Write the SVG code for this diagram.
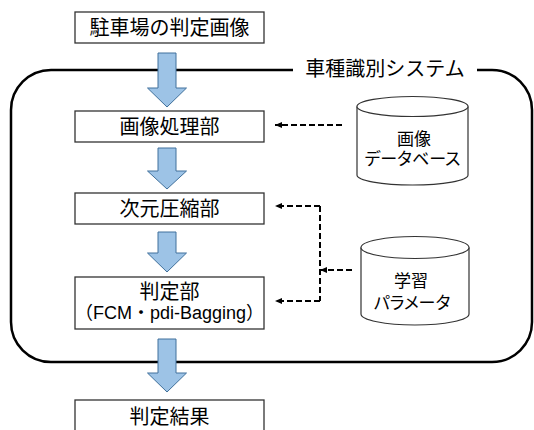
<svg xmlns="http://www.w3.org/2000/svg" width="534" height="430" viewBox="0 0 534 430">
<style>
  text { font-family: "Liberation Sans", "Noto Sans CJK JP", sans-serif; fill: #000; text-anchor: middle; }
  .lbl { font-size: 20px; }
  .sub { font-size: 18px; }
  .cyl-t { font-size: 17px; font-feature-settings: "palt"; }
  .box { fill: #fff; stroke: #333; stroke-width: 1.3; }
  .cyl { fill: #fff; stroke: #333; stroke-width: 1.2; }
  .barrow { fill: #9DC3E6; stroke: #41719C; stroke-width: 1; }
  .dash { fill: none; stroke: #000; stroke-width: 2; stroke-dasharray: 6 3; }
  .frame { fill: none; stroke: #000; stroke-width: 2.5; }
</style>
<defs>
  <marker id="ah" viewBox="0 0 7 6" refX="7" refY="3" markerWidth="7" markerHeight="6" markerUnits="userSpaceOnUse" orient="auto">
    <path d="M0,0 L7,3 L0,6 z" fill="#000"/>
  </marker>
</defs>

<g id="system">
  <path class="frame" d="M293,70 H51 A40,40 0 0 0 11,110 V322 A40,40 0 0 0 51,362 H492 A40,40 0 0 0 532,322 V110 A40,40 0 0 0 492,70 H477"/>
  <text class="lbl" x="385" y="76">車種識別システム</text>
</g>

<g id="input-image">
  <rect class="box" x="75" y="12" width="189" height="31"/>
  <text class="lbl" x="169.5" y="35">駐車場の判定画像</text>
</g>

<g id="image-processing">
  <rect class="box" x="75" y="111" width="189" height="31"/>
  <text class="lbl" x="169.5" y="134">画像処理部</text>
</g>

<g id="dim-reduction">
  <rect class="box" x="75" y="193" width="189" height="31"/>
  <text class="lbl" x="169.5" y="216">次元圧縮部</text>
</g>

<g id="judgement">
  <rect class="box" x="75" y="277" width="189" height="52"/>
  <text class="lbl" x="169.5" y="299">判定部</text>
  <text class="sub" x="169.5" y="319">（FCM・pdi-Bagging）</text>
</g>

<g id="result">
  <rect class="box" x="75" y="400" width="189" height="40"/>
  <text class="lbl" x="169.5" y="424">判定結果</text>
</g>

<g id="image-db">
  <path class="cyl" d="M357,106.5 V175 A55.5,10 0 0 0 468,175 V106.5"/>
  <ellipse class="cyl" cx="412.5" cy="106.5" rx="55.5" ry="10"/>
  <text class="cyl-t" x="414" y="145">画像</text>
  <text class="cyl-t" x="412.5" y="165">データベース</text>
</g>

<g id="learn-params">
  <path class="cyl" d="M361,247.5 V314 A54,11 0 0 0 469,314 V247.5"/>
  <ellipse class="cyl" cx="415" cy="247.5" rx="54" ry="11"/>
  <text class="cyl-t" x="411" y="287">学習</text>
  <text class="cyl-t" x="412" y="309">パラメータ</text>
</g>

<g id="connectors">
  <path class="barrow" d="M158,53 H176 V88 H186.5 L167,107 L147.5,88 H158 Z"/>
  <path class="barrow" d="M158,148 H176 V171 H186.5 L167,189 L147.5,171 H158 Z"/>
  <path class="barrow" d="M158,232 H176 V253 H186.5 L167,272 L147.5,253 H158 Z"/>
  <path class="barrow" d="M158,339 H176 V373 H186.5 L167,392 L147.5,373 H158 Z"/>
  <path class="dash" d="M342,125 H275" marker-end="url(#ah)"/>
  <path class="dash" d="M320,206 H275" marker-end="url(#ah)"/>
  <path class="dash" d="M320,206 V301"/>
  <path class="dash" d="M320,301 H275" marker-end="url(#ah)"/>
  <path class="dash" d="M352,270 H320" marker-end="url(#ah)"/>
</g>
</svg>
